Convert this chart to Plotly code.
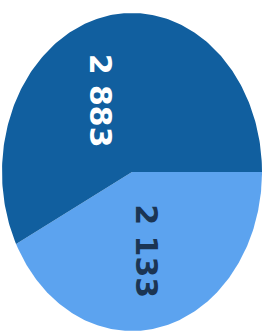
import numpy as np
import plotly.graph_objects as go

labels = ["2 133", "2 883"]
values = [2133, 2883]
colors = ["#5ca3ef", "#115f9f"]
text_colors = ["#1b3553", "#ffffff"]

total = sum(values)
fig = go.Figure()

start = 0.0  # degrees, east, going clockwise on screen
for v, c in zip(values, colors):
    sweep = v / total * 360.0
    ang = np.radians(np.linspace(-start, -(start + sweep), 200))
    xs = np.concatenate([[0], np.cos(ang), [0]])
    ys = np.concatenate([[0], np.sin(ang), [0]])
    fig.add_trace(go.Scatter(x=xs, y=ys, fill="toself", fillcolor=c,
                             mode="lines", line=dict(width=0, color=c),
                             hoverinfo="skip", showlegend=False))
    start += sweep

pos = [(0.11, -0.50), (-0.24, 0.45)]
for lab, tc, (px, py) in zip(labels, text_colors, pos):
    fig.add_annotation(x=px, y=py, text=lab, showarrow=False, textangle=90,
                       font=dict(family="DejaVu Sans", size=30, color=tc, weight="bold"))

W, H = 269, 331
x0 = -1 - 2 / 130
y1 = 1 + 13 / 159
fig.update_layout(
    width=W, height=H, margin=dict(l=0, r=0, t=0, b=0),
    paper_bgcolor="white", plot_bgcolor="white",
    xaxis=dict(range=[x0, x0 + W / 130], visible=False, fixedrange=True),
    yaxis=dict(range=[y1 - H / 159, y1], visible=False, fixedrange=True),
)
fig.write_html("out.html", config={"displayModeBar": False},
               post_script="document.body.style.margin='0';document.body.style.overflow='hidden';")
